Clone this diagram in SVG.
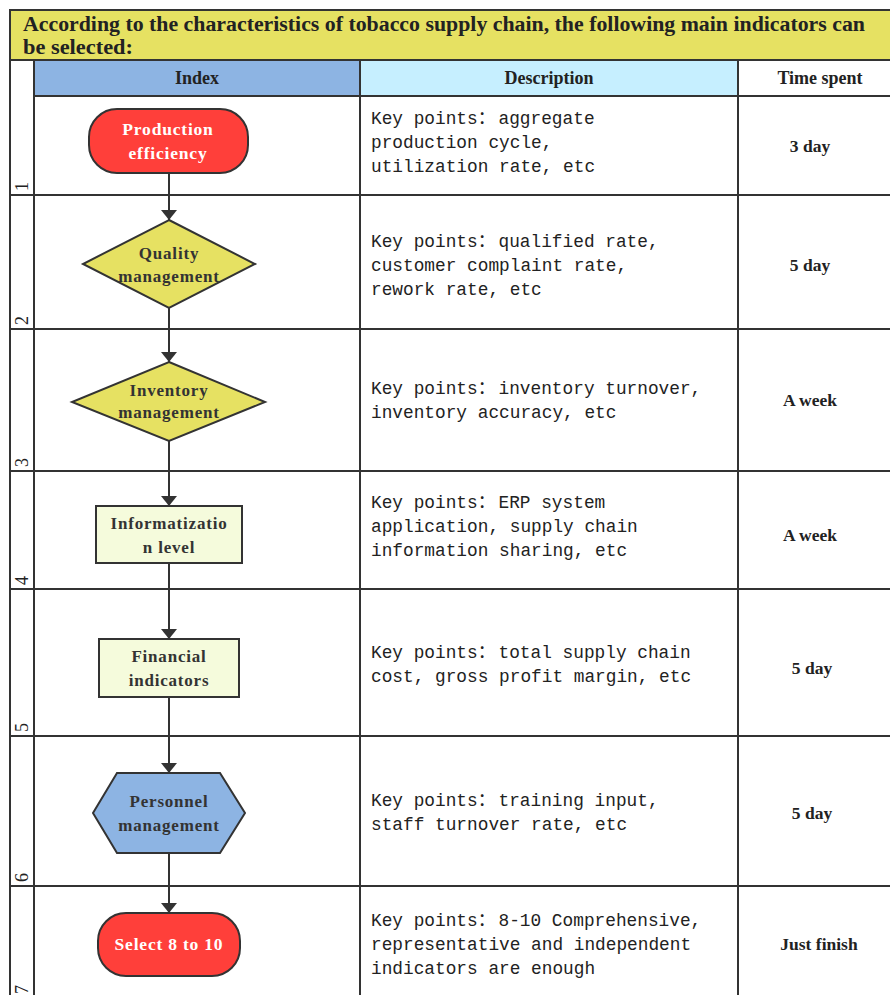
<svg xmlns="http://www.w3.org/2000/svg" width="890" height="995" viewBox="0 0 890 995">
<style>
.grid{fill:none;stroke:#333;stroke-width:2}
.cell{stroke:#333;stroke-width:2}
.title{font-family:"Liberation Serif",serif;font-weight:bold;font-size:20px;fill:#222}
.hdr{font-family:"Liberation Serif",serif;font-weight:bold;font-size:18px;fill:#222;text-anchor:middle}
.num{font-family:"Liberation Serif",serif;font-size:18px;fill:#222}
.desc{font-family:"Liberation Mono","Noto Sans CJK SC",monospace;font-size:17.8px;fill:#222}
.cjk{font-family:"Noto Sans CJK SC",sans-serif}
.time{font-family:"Liberation Serif",serif;font-weight:bold;font-size:17.5px;fill:#222;text-anchor:middle}
.nt{font-family:"Liberation Serif",serif;font-weight:bold;font-size:17px;fill:#333;text-anchor:middle;letter-spacing:0.8px}
.nw{font-family:"Liberation Serif",serif;font-weight:bold;font-size:17.5px;fill:#fff;text-anchor:middle;letter-spacing:0.8px}
.shape{stroke:#333;stroke-width:2}
.conn{stroke:#333;stroke-width:2;fill:none;marker-end:url(#ah)}
</style>
<defs>
<marker id="ah" viewBox="0 0 10 16" refX="10" refY="8" markerWidth="11" markerHeight="16" markerUnits="userSpaceOnUse" orient="auto">
<path d="M0,0 L10,8 L0,16 Z" fill="#333"/>
</marker>
</defs>
<rect width="890" height="995" fill="#fff"/>
<g id="table">
<rect x="10" y="10" width="890" height="50" fill="#e6e162" class="cell"/>
<rect x="34" y="60" width="326" height="36" fill="#8db4e3" class="cell"/>
<rect x="360" y="60" width="378" height="36" fill="#c6efff" class="cell"/>
<rect x="738" y="60" width="160" height="36" fill="#ffffff" class="cell"/>
<line x1="10" y1="60" x2="10" y2="1000" class="grid"/>
<line x1="34" y1="60" x2="34" y2="1000" class="grid"/>
<line x1="360" y1="96" x2="360" y2="1000" class="grid"/>
<line x1="738" y1="96" x2="738" y2="1000" class="grid"/>
<line x1="10" y1="195" x2="900" y2="195" class="grid"/>
<line x1="10" y1="329" x2="900" y2="329" class="grid"/>
<line x1="10" y1="471" x2="900" y2="471" class="grid"/>
<line x1="10" y1="589" x2="900" y2="589" class="grid"/>
<line x1="10" y1="736" x2="900" y2="736" class="grid"/>
<line x1="10" y1="886" x2="900" y2="886" class="grid"/>
<text x="23" y="31" class="title" textLength="842" lengthAdjust="spacingAndGlyphs">According to the characteristics of tobacco supply chain, the following main indicators can</text>
<text x="23" y="54" class="title" textLength="110" lengthAdjust="spacingAndGlyphs">be selected:</text>
<text x="197" y="84" class="hdr">Index</text>
<text x="549" y="84" class="hdr">Description</text>
<text x="820" y="84" class="hdr">Time spent</text>
<text class="num" transform="translate(28,191) rotate(-90)">1</text>
<text class="num" transform="translate(28,325) rotate(-90)">2</text>
<text class="num" transform="translate(28,467) rotate(-90)">3</text>
<text class="num" transform="translate(28,585) rotate(-90)">4</text>
<text class="num" transform="translate(28,732) rotate(-90)">5</text>
<text class="num" transform="translate(28,882) rotate(-90)">6</text>
<text class="num" transform="translate(28,994) rotate(-90)">7</text>
<text x="371" y="124" class="desc">Key points<tspan class="cjk">：</tspan><tspan dx="3">aggregate</tspan></text>
<text x="371" y="148" class="desc">production cycle,</text>
<text x="371" y="172" class="desc">utilization rate, etc</text>
<text x="371" y="247" class="desc">Key points<tspan class="cjk">：</tspan><tspan dx="3">qualified rate,</tspan></text>
<text x="371" y="271" class="desc">customer complaint rate,</text>
<text x="371" y="295" class="desc">rework rate, etc</text>
<text x="371" y="394" class="desc">Key points<tspan class="cjk">：</tspan><tspan dx="3">inventory turnover,</tspan></text>
<text x="371" y="418" class="desc">inventory accuracy, etc</text>
<text x="371" y="508" class="desc">Key points<tspan class="cjk">：</tspan><tspan dx="3">ERP system</tspan></text>
<text x="371" y="532" class="desc">application, supply chain</text>
<text x="371" y="556" class="desc">information sharing, etc</text>
<text x="371" y="658" class="desc">Key points<tspan class="cjk">：</tspan><tspan dx="3">total supply chain</tspan></text>
<text x="371" y="682" class="desc">cost, gross profit margin, etc</text>
<text x="371" y="806" class="desc">Key points<tspan class="cjk">：</tspan><tspan dx="3">training input,</tspan></text>
<text x="371" y="830" class="desc">staff turnover rate, etc</text>
<text x="371" y="926" class="desc">Key points<tspan class="cjk">：</tspan><tspan dx="3">8-10 Comprehensive,</tspan></text>
<text x="371" y="950" class="desc">representative and independent</text>
<text x="371" y="974" class="desc">indicators are enough</text>
<text x="810" y="152" class="time">3 day</text>
<text x="810" y="271" class="time">5 day</text>
<text x="810" y="406" class="time">A week</text>
<text x="810" y="541" class="time">A week</text>
<text x="812" y="674" class="time">5 day</text>
<text x="812" y="819" class="time">5 day</text>
<text x="819" y="950" class="time">Just finish</text>
</g>
<g id="connectors">
<line x1="169" y1="173" x2="169" y2="220" class="conn"/>
<line x1="169" y1="308" x2="169" y2="362" class="conn"/>
<line x1="169" y1="441" x2="169" y2="506" class="conn"/>
<line x1="169" y1="563" x2="169" y2="639" class="conn"/>
<line x1="169" y1="697" x2="169" y2="773" class="conn"/>
<line x1="169" y1="853" x2="169" y2="913" class="conn"/>
</g>
<g id="production-efficiency">
<rect x="89" y="109" width="159" height="64" rx="28" fill="#ff3f3a" class="shape"/>
<text x="168" y="135" class="nw">Production</text>
<text x="168" y="159" class="nw">efficiency</text>
</g>
<g id="quality-management">
<polygon points="169,220 255,264 169,308 83,264" fill="#e6e162" class="shape"/>
<text x="169" y="259" class="nt">Quality</text>
<text x="169" y="282" class="nt">management</text>
</g>
<g id="inventory-management">
<polygon points="169,362 265,402 169,441 72,402" fill="#e6e162" class="shape"/>
<text x="169" y="396" class="nt">Inventory</text>
<text x="169" y="418" class="nt">management</text>
</g>
<g id="informatization-level">
<rect x="96" y="506" width="146" height="57" fill="#f5fbdc" class="shape"/>
<text x="169" y="529" class="nt">Informatizatio</text>
<text x="169" y="553" class="nt">n level</text>
</g>
<g id="financial-indicators">
<rect x="99" y="639" width="140" height="58" fill="#f5fbdc" class="shape"/>
<text x="169" y="662" class="nt">Financial</text>
<text x="169" y="686" class="nt">indicators</text>
</g>
<g id="personnel-management">
<polygon points="117,773 220,773 245,813 220,853 117,853 93,813" fill="#8db4e3" class="shape"/>
<text x="169" y="807" class="nt">Personnel</text>
<text x="169" y="831" class="nt">management</text>
</g>
<g id="select-8-to-10">
<rect x="98" y="913" width="142" height="63" rx="28" fill="#ff3f3a" class="shape"/>
<text x="169" y="950" class="nw">Select 8 to 10</text>
</g>
</svg>
